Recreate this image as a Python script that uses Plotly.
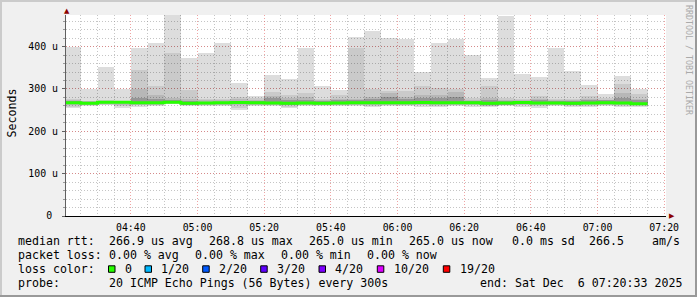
import pandas as pd
import plotly.graph_objects as go

# ---------------- data ----------------
bar_start = pd.date_range("2025-12-06 04:20:00", periods=35, freq="5min")
range_start = "2025-12-06 04:20:33"
range_end = "2025-12-06 07:20:33"

# smoke bands (seconds, in micro-units "u")
u1 = [400, 301, 353, 301, 396, 408, 475, 372, 384, 408, 313, 283, 332, 323, 396, 306, 297, 422,
      436, 421, 417, 340, 408, 417, 380, 325, 472, 335, 328, 396, 342, 309, 288, 330, 301]
u2 = [277, 272, 274, 272, 344, 306, 384, 297, 276, 276, 282, 279, 292, 285, 290, 277, 285, 396,
      301, 294, 295, 308, 303, 301, 279, 306, 279, 276, 284, 276, 276, 283, 279, 311, 287]
u3 = [273, 271, 272, 271, 301, 285, 278, 276, 273, 273, 276, 275, 284, 278, 281, 274, 277, 277,
      281, 290, 281, 285, 285, 293, 275, 278, 275, 273, 277, 273, 274, 277, 275, 290, 277]
u4 = [271, 269, 271, 271, 279, 276, 273, 271, 270, 270, 272, 272, 279, 274, 275, 271, 273, 274,
      276, 281, 277, 279, 279, 281, 272, 275, 272, 271, 273, 272, 272, 274, 273, 279, 274]
median = [267.7, 266.1, 268.5, 268.5, 267.7, 267.7, 268.8, 266.1, 266.9, 267.5, 268.2, 267.5,
          266.9, 266.1, 266.9, 266.5, 266.9, 267.5, 267.5, 267.3, 267.3, 268.0, 267.3, 267.3,
          267.5, 266.2, 266.6, 268.0, 266.9, 266.9, 266.0, 266.9, 267.3, 266.9, 265.0]
l4 = [265, 264, 266, 266, 265, 265, 267, 263, 264, 264, 265, 265, 264, 263, 264, 264, 264, 265,
      264, 265, 265, 265, 264, 264, 265, 262, 263, 265, 264, 264, 262, 264, 264, 264, 263]
l3 = [263, 263, 264, 263, 263, 263, 266, 262, 262, 263, 262, 263, 262, 261, 263, 262, 263, 263,
      262, 263, 263, 263, 262, 263, 263, 260, 262, 263, 262, 263, 261, 262, 263, 262, 262]
l2 = [258, 262, 263, 259, 261, 262, 265, 261, 261, 262, 255, 262, 261, 258, 262, 261, 262, 261,
      260, 261, 261, 261, 260, 261, 261, 259, 261, 261, 259, 261, 260, 260, 261, 260, 260]
l1 = [254, 260, 262, 255, 258, 260, 264, 259, 259, 260, 250, 259, 259, 255, 260, 259, 260, 259,
      257, 259, 259, 258, 258, 259, 258, 257, 259, 258, 255, 259, 258, 257, 259, 258, 258]

y_max = 474.6
y_ticks = [0, 100, 200, 300, 400]
y_ticktext = ["0\u00a0", "100 u", "200 u", "300 u", "400 u"]

legend_rows = [
    [("median rtt:", 16.3), ("266.9 us avg", 107.3), ("268.8 us max", 207.3),
     ("265.0 us min", 307.3), ("265.0 us now", 407.3), ("0.0 ms sd", 509.5),
     ("266.5", 586.5), ("am/s", 649.5)],
    [("packet loss:", 16.3), ("0.00 % avg", 107.3), ("0.00 % max", 193.3),
     ("0.00 % min", 279.3), ("0.00 % now", 365.3)],
    [("loss color:", 16.3)],
    [("probe:", 16.3), ("20 ICMP Echo Pings (56 Bytes) every 300s", 107.3),
     ("end: Sat Dec  6 07:20:33 2025", 478.3)],
]
row_y = [241.3, 255.0, 269.0, 282.5]
loss_labels = ["0", "1/20", "2/20", "3/20", "4/20", "10/20", "19/20"]
loss_colors = ["#26ff00", "#00b8ff", "#0059ff", "#5e00ff", "#7e00ff", "#dd00ff", "#ff0000"]
loss_box_x = [108.5, 145.0, 202.7, 260.7, 319.0, 377.3, 443.3]

# ---------------- layout geometry ----------------
W, H = 697, 297
L, R, T, B = 66, 31, 15, 81
PW, PH = W - L - R, H - T - B


def px(x):
    return (x - L) / PW


def py(y):
    return (H - B - y) / PH


MONO = "DejaVu Sans Mono"
step = pd.Timedelta("5min")
centers = bar_start + step / 2

fig = go.Figure()
bands = [(l1, u1, 0.1333), (l2, u2, 0.086), (l3, u3, 0.094), (l4, u4, 0.18)]
for lo, hi, a in bands:
    fig.add_trace(go.Bar(
        x=centers, y=[h - l for h, l in zip(hi, lo)], base=lo,
        width=step.total_seconds() * 1000,
        marker=dict(color=f"rgba(0,0,0,{a})", line=dict(width=0)),
        hoverinfo="skip", showlegend=False,
    ))

edges = list(bar_start) + [bar_start[-1] + step]
fig.add_trace(go.Scatter(
    x=edges, y=median + [median[-1]], mode="lines",
    line=dict(color=loss_colors[0], width=3, shape="hv"),
    hoverinfo="skip", showlegend=False,
))

annotations = []
for row, yy in zip(legend_rows, row_y):
    for txt, xx in row:
        annotations.append(dict(
            text=txt.replace(" ", "\u00a0"), xref="paper", yref="paper",
            x=px(xx), y=py(yy), xanchor="left", yanchor="middle", showarrow=False,
            font=dict(family=MONO, size=11.6, color="#000000")))

shapes = []
for lab, col, bx in zip(loss_labels, loss_colors, loss_box_x):
    shapes.append(dict(type="rect", xref="paper", yref="paper",
                       x0=px(bx), x1=px(bx + 6.5), y0=py(272.3), y1=py(265.8),
                       fillcolor=col, line=dict(color="#000000", width=1)))
    annotations.append(dict(
        text=lab, xref="paper", yref="paper", x=px(bx + 14.2), y=py(row_y[2]),
        xanchor="left", yanchor="middle", showarrow=False,
        font=dict(family=MONO, size=11.6, color="#000000")))

# y-axis title
annotations.append(dict(text="Seconds", xref="paper", yref="paper", x=px(11), y=py(113.5),
                        textangle=-90, xanchor="center", yanchor="middle", showarrow=False,
                        font=dict(family=MONO, size=11.6, color="#000000")))
# watermark
annotations.append(dict(text="RRDTOOL\u00a0/\u00a0TOBI\u00a0OETIKER", xref="paper", yref="paper",
                        x=px(689), y=py(60), textangle=90, xanchor="center", yanchor="middle",
                        showarrow=False, font=dict(family=MONO, size=8.3, color="#aaaaaa")))
# axis arrows
annotations.append(dict(text="\u25b2", xref="paper", yref="paper", x=px(66.5), y=py(10.5),
                        xanchor="center", yanchor="middle", showarrow=False,
                        font=dict(family="DejaVu Sans", size=7, color="#8b0000")))
annotations.append(dict(text="\u25b6", xref="paper", yref="paper", x=px(671.5), y=py(215.6),
                        xanchor="center", yanchor="middle", showarrow=False,
                        font=dict(family="DejaVu Sans", size=7, color="#8b0000")))

# frame shading
shapes += [
    dict(type="rect", xref="paper", yref="paper", x0=px(0), x1=px(W), y0=py(2), y1=py(0),
         fillcolor="#cbcbcb", line=dict(width=0), layer="above"),
    dict(type="rect", xref="paper", yref="paper", x0=px(0), x1=px(2), y0=py(H), y1=py(0),
         fillcolor="#cbcbcb", line=dict(width=0), layer="above"),
    dict(type="rect", xref="paper", yref="paper", x0=px(0), x1=px(W), y0=py(H), y1=py(H - 2),
         fillcolor="#999999", line=dict(width=0), layer="above"),
    dict(type="rect", xref="paper", yref="paper", x0=px(W - 2), x1=px(W), y0=py(H), y1=py(0),
         fillcolor="#999999", line=dict(width=0), layer="above"),
]

MAJOR = "rgba(225,90,90,0.55)"
MINOR = "rgba(140,140,140,0.5)"
fig.update_layout(
    width=W, height=H, margin=dict(l=L, r=R, t=T, b=B, pad=0),
    paper_bgcolor="#f0f0f0", plot_bgcolor="#ffffff",
    barmode="overlay", bargap=0, showlegend=False,
    annotations=annotations, shapes=shapes,
    font=dict(family=MONO, color="#000000"),
    xaxis=dict(
        type="date", range=[range_start, range_end],
        tickmode="linear", tick0="2025-12-06 04:40:00", dtick=20 * 60 * 1000,
        tickformat="%H:%M", tickfont=dict(family=MONO, size=9.9, color="#000000"),
        showgrid=True, gridcolor=MAJOR, griddash="1px,2px", gridwidth=1,
        minor=dict(tick0="2025-12-06 04:20:00", dtick=5 * 60 * 1000, showgrid=True,
                   gridcolor=MINOR, griddash="1px,2px", gridwidth=1),
        showline=True, linecolor="#000000", linewidth=1, ticks="", zeroline=False,
        ticklabelstandoff=2, fixedrange=True,
    ),
    yaxis=dict(
        range=[0, y_max], tickmode="array", tickvals=y_ticks, ticktext=y_ticktext,
        tickfont=dict(family=MONO, size=9.9, color="#000000"),
        showgrid=True, gridcolor=MAJOR, griddash="1px,2px", gridwidth=1,
        minor=dict(dtick=20, tick0=0, showgrid=True, gridcolor=MINOR, griddash="1px,2px",
                   gridwidth=1, ticks="outside", ticklen=2, tickcolor="#999999"),
        showline=True, linecolor="#606060", linewidth=1, ticks="outside", ticklen=3,
        tickcolor="#606060", zeroline=False, ticklabelstandoff=2, fixedrange=True,
    ),
)

fig.write_html("out.html")
